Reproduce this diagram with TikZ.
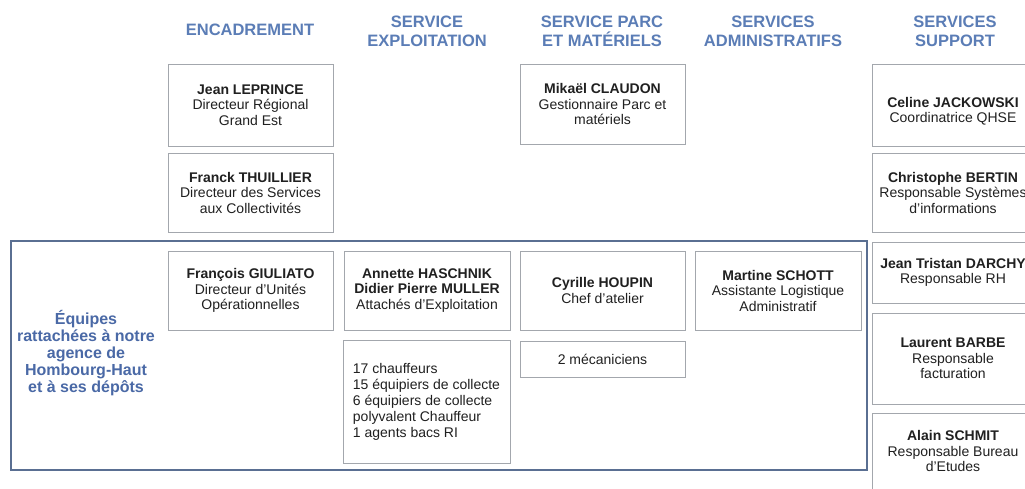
\documentclass[tikz,border=0pt]{standalone}
\usepackage{fontspec}
\setmainfont{Liberation Sans}
\definecolor{headblue}{HTML}{5B7DB6}
\definecolor{lblblue}{HTML}{4A69A6}
\definecolor{frameblue}{HTML}{5A6F92}
\definecolor{boxgray}{HTML}{A3A7AD}
\definecolor{txtcol}{HTML}{202020}
\tikzset{
  orgbox/.style={draw=boxgray, line width=0.9pt, fill=white, inner sep=0pt, rectangle,
    text=txtcol, align=center, font=\fontsize{14}{15.5}\selectfont},
  boxtext/.style={text=txtcol, inner sep=0pt, align=center,
    font=\fontsize{14}{15.5}\selectfont},
  heading/.style={text=headblue, inner sep=0pt, align=center, anchor=base,
    font=\fontsize{16.5}{19}\selectfont\bfseries},
  sidelabel/.style={text=lblblue, inner sep=0pt, align=center, anchor=base,
    font=\fontsize{16}{17}\selectfont\bfseries},
}
\begin{document}
\begin{tikzpicture}[x=1pt, y=-1pt]
\useasboundingbox (0,0) rectangle (1025,488);
\fill[white] (0,0) rectangle (1025,488);

% headings (anchor base = baseline of last line)
\node[heading] (h1) at (250,35) {ENCADREMENT};
\node[heading] (h2) at (427,46) {SERVICE\\EXPLOITATION};
\node[heading] (h3) at (602,46) {SERVICE PARC\\ET MATÉRIELS};
\node[heading] (h4) at (773,46) {SERVICES\\ADMINISTRATIFS};
\node[heading] (h5) at (955,46) {SERVICES\\SUPPORT};

% big frame
\draw[frameblue, line width=2pt] (11,241) rectangle (867,470);
\node[sidelabel] (lbl) at (86,392) {Équipes\\rattachées à notre\\agence de\\Hombourg-Haut\\et à ses dépôts};

% boxes with text
\node[orgbox, minimum width=165pt, minimum height=82pt] (leprince) at (250.5,105)
  {\textbf{Jean LEPRINCE}\\Directeur Régional\\Grand Est};
\node[orgbox, minimum width=165pt, minimum height=79pt] (thuillier) at (250.5,192.5)
  {\textbf{Franck THUILLIER}\\Directeur des Services\\aux Collectivités};
\node[orgbox, minimum width=165pt, minimum height=79pt] (giuliato) at (250.5,290.5)
  {\textbf{François GIULIATO}\\Directeur d’Unités\\Opérationnelles};
\node[orgbox, minimum width=166pt, minimum height=79pt] (annette) at (427,290.5)
  {\textbf{Annette HASCHNIK}\\\textbf{Didier Pierre MULLER}\\Attachés d’Exploitation};
\node[orgbox, minimum width=167pt, minimum height=123pt, align=left,
  font=\fontsize{14}{16}\selectfont] (staff) at (426.5,401.5)
  {17 chauffeurs\\15 équipiers de collecte\\6 équipiers de collecte\\polyvalent Chauffeur\\1 agents bacs RI};
\node[orgbox, minimum width=165pt, minimum height=79pt] (houpin) at (602.5,290.5)
  {\textbf{Cyrille HOUPIN}\\Chef d’atelier};
\node[orgbox, minimum width=165pt, minimum height=36pt] (meca) at (602.5,359)
  {2 mécaniciens};
\node[orgbox, minimum width=166pt, minimum height=79pt] (schott) at (778,290.5)
  {\textbf{Martine SCHOTT}\\Assistante Logistique\\Administratif};
\node[orgbox, minimum width=165pt, minimum height=80pt] (claudon) at (602.5,104)
  {\textbf{Mikaël CLAUDON}\\Gestionnaire Parc et\\matériels};
\node[orgbox, minimum width=168pt, minimum height=82pt] (jackowski) at (956,105) {};
\node[boxtext] (jackowski-t) at (953,111) {\textbf{Celine JACKOWSKI}\\Coordinatrice QHSE};
\node[orgbox, minimum width=168pt, minimum height=79pt] (bertin) at (956,192.5)
  {\hspace*{-6pt}\textbf{Christophe BERTIN}\\\hspace*{-6pt}Responsable Systèmes\\\hspace*{-6pt}d’informations};
\node[orgbox, minimum width=168pt, minimum height=61pt] (darchy) at (956,272.5)
  {\hspace*{-6pt}\textbf{Jean Tristan DARCHY}\\\hspace*{-6pt}Responsable RH};
\node[orgbox, minimum width=168pt, minimum height=91pt] (barbe) at (956,358.5)
  {\hspace*{-6pt}\textbf{Laurent BARBE}\\\hspace*{-6pt}Responsable\\\hspace*{-6pt}facturation};
\node[orgbox, minimum width=168pt, minimum height=76pt] (schmit) at (956,451)
  {\hspace*{-6pt}\textbf{Alain SCHMIT}\\\hspace*{-6pt}Responsable Bureau\\\hspace*{-6pt}d’Etudes};
\end{tikzpicture}
\end{document}
